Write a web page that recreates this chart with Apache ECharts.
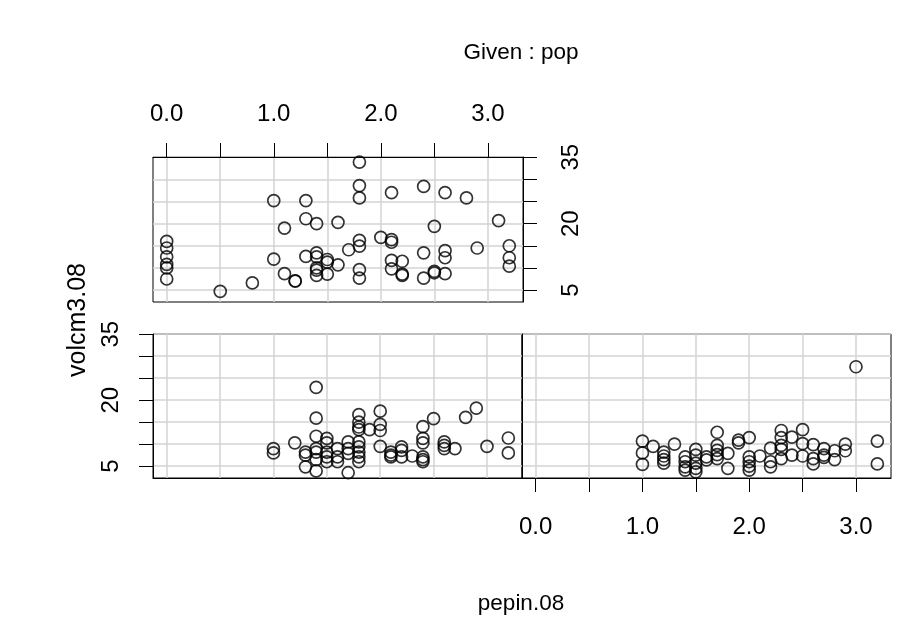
<!DOCTYPE html>
<html>
<head>
<meta charset="utf-8">
<script src="https://cdn.jsdelivr.net/npm/echarts@6/dist/echarts.min.js"></script>
<style>
html,body{margin:0;padding:0;background:#fff;}
#chart{width:898px;height:644px;}
</style>
</head>
<body>
<div id="chart"></div>
<script>
// ---- data (pepin.08 vs volcm3.08, given pop) ----
const topX = [0,0,0,0,0,0, 0.5, 0.8, 1.0,1.0, 1.1,1.1, 1.2,1.2, 1.3,1.3,1.3, 1.4,1.4,1.4,1.4,1.4,1.4, 1.5,1.5,1.5, 1.6,1.6, 1.7,
  1.8,1.8,1.8,1.8,1.8,1.8,1.8, 2.0, 2.1,2.1,2.1,2.1,2.1, 2.2,2.2,2.2, 2.4,2.4,2.4, 2.5,2.5,2.5, 2.6,2.6,2.6,2.6, 2.8, 2.9, 3.1, 3.2,3.2,3.2];
const topY = [16.0,14.5,12.5,10.8,10.0,7.5, 4.7, 6.6, 25.2,12.0, 19.0,8.7, 7.1,7.0, 25.2,21.1,12.6, 20.0,13.4,12.5,10.0,9.5,8.3, 11.9,11.3,8.6, 20.3,10.7, 14.1,
  33.9,28.6,25.8,16.2,14.9,9.6,7.7, 16.9, 16.4,15.8,27.0,11.7,9.8, 11.5,8.6,8.3, 28.4,13.4,7.7, 19.4,9.2,8.9, 27.0,13.9,12.3,8.7, 25.8, 14.5, 20.7, 15.0,12.3,10.4];

const leftX = [1.0,1.0, 1.2, 1.3,1.3,1.3, 1.4,1.4,1.4,1.4,1.4,1.4,1.4, 1.5,1.5,1.5,1.5,1.5, 1.6,1.6,1.6, 1.7,1.7,1.7,1.7,
  1.8,1.8,1.8,1.8,1.8,1.8,1.8,1.8,1.8, 1.9, 2.0,2.0,2.0,2.0, 2.1,2.1,2.1, 2.2,2.2,2.2, 2.3, 2.4,2.4,2.4,2.4,2.4,2.4,
  2.5, 2.6,2.6,2.6, 2.7, 2.8, 2.9, 3.0, 3.2,3.2];
const leftY = [9.0,8.0, 10.3, 8.2,7.5,4.85, 22.9,15.9,11.8,9.0,8.2,6.5,3.9, 11.3,10.3,8.2,7.1,6.0, 9.0,7.1,6.0, 10.5,9.0,7.9,3.5,
  16.7,15.0,13.9,13.3,10.5,9.4,8.2,7.1,6.0, 13.3, 17.5,14.5,13.1,9.5, 8.2,7.5,7.1, 9.4,8.6,7.1, 7.3, 14.0,11.3,10.3,7.1,6.5,6.0,
  15.8, 10.5,9.7,9.0, 9.0, 16.1, 18.2, 9.5, 11.4,8.0];

const rightX = [1.0,1.0,1.0, 1.1, 1.2,1.2,1.2,1.2, 1.3, 1.4,1.4,1.4,1.4, 1.5,1.5,1.5,1.5,1.5, 1.6,1.6, 1.7,1.7,1.7,1.7,1.7,
  1.8,1.8, 1.9,1.9, 2.0,2.0,2.0,2.0,2.0, 2.1, 2.2,2.2,2.2, 2.3,2.3,2.3,2.3,2.3, 2.4,2.4, 2.5,2.5,2.5, 2.6,2.6,2.6,
  2.7,2.7,2.7, 2.8,2.8, 2.9,2.9, 3.0, 3.2,3.2];
const rightY = [10.7,8.0,5.4, 9.5, 8.2,7.3,6.5,5.7, 10.0, 7.1,6.0,4.85,4.1, 8.8,7.5,5.7,4.5,3.7, 7.1,6.4, 12.7,9.7,8.6,7.6,6.7,
  7.9,4.5, 10.9,10.3, 11.5,7.1,6.0,5.0,4.1, 7.3, 9.1,6.0,4.85, 13.1,11.5,9.7,8.8,6.7, 11.6,7.5, 13.3,10.1,7.3, 9.9,6.7,5.5,
  9.0,7.5,7.0, 8.5,6.5, 10.0,8.5, 27.6, 10.7,5.5];

const xTicks = [0, 0.5, 1, 1.5, 2, 2.5, 3];
const xTickLabels = [0, 1, 2, 3];
const yTicks = [5, 10, 15, 20, 25, 30, 35];
const yTickLabels = [5, 20, 35];
const titleText = 'Given : pop';
const xName = 'pepin.08';
const yName = 'volcm3.08';

// ---- chart ----
const FONT = '"Liberation Sans", Arial, Helvetica, sans-serif';
const TICK_FS = 24, LAB_FS = 22.5, YLAB_FS = 25;
const xMin = -0.128, xMax = 3.328, yMin = 2.3, yMax = 35.05;

function zip(a, b) { return a.map((v, i) => [v, b[i]]); }

const split = { show: true, lineStyle: { color: '#d3d3d3', width: 1.5 } };
const line = { show: true, onZero: false, lineStyle: { color: '#000', width: 1 } };

function xAx(gi, pos, labelled, margin) {
  return {
    type: 'value', gridIndex: gi, position: pos, min: xMin, max: xMax,
    axisLine: line,
    axisTick: { show: labelled, customValues: xTicks, length: 14, lineStyle: { color: '#000', width: 1 } },
    axisLabel: { show: labelled, customValues: xTickLabels, formatter: v => Number(v).toFixed(1),
      fontSize: TICK_FS, fontFamily: FONT, color: '#000', margin: margin },
    splitLine: split
  };
}
function yAx(gi, pos, labelled, margin) {
  return {
    type: 'value', gridIndex: gi, position: pos, min: yMin, max: yMax,
    axisLine: line,
    axisTick: { show: labelled, customValues: yTicks, length: 14, lineStyle: { color: '#000', width: 1 } },
    axisLabel: { show: labelled, customValues: yTickLabels, rotate: 90,
      fontSize: TICK_FS, fontFamily: FONT, color: '#000', margin: margin },
    splitLine: split
  };
}
function sc(gi, data) {
  return {
    type: 'scatter', xAxisIndex: gi, yAxisIndex: gi, data: data,
    symbol: 'circle', symbolSize: 12, silent: true,
    itemStyle: { color: 'rgba(0,0,0,0)', borderColor: '#000', borderWidth: 1.7 },
    emphasis: { disabled: true }
  };
}

const chart = echarts.init(document.getElementById('chart'), null, { renderer: 'canvas' });
chart.setOption({
  animation: false,
  backgroundColor: '#fff',
  grid: [
    { left: 153, top: 157, width: 370, height: 145, show: true, borderColor: '#000', borderWidth: 1, backgroundColor: 'transparent' },
    { left: 153, top: 334, width: 369, height: 144, show: true, borderColor: '#000', borderWidth: 1, backgroundColor: 'transparent' },
    { left: 522, top: 334, width: 369, height: 144, show: true, borderColor: '#000', borderWidth: 1, backgroundColor: 'transparent' }
  ],
  xAxis: [ xAx(0, 'top', true, 31), xAx(1, 'bottom', false, 30), xAx(2, 'bottom', true, 37) ],
  yAxis: [ yAx(0, 'right', true, 36), yAx(1, 'left', true, 30), yAx(2, 'left', false, 30) ],
  series: [ sc(0, zip(topX, topY)), sc(1, zip(leftX, leftY)), sc(2, zip(rightX, rightY)) ],
  graphic: [
    { type: 'text', x: 521, y: 53, silent: true,
      style: { text: titleText, fontSize: LAB_FS, fontFamily: FONT, fill: '#000', align: 'center', verticalAlign: 'middle' } },
    { type: 'text', x: 521, y: 604, silent: true,
      style: { text: xName, fontSize: LAB_FS, fontFamily: FONT, fill: '#000', align: 'center', verticalAlign: 'middle' } },
    { type: 'text', x: 78, y: 320, rotation: Math.PI / 2, silent: true,
      style: { text: yName, fontSize: YLAB_FS, fontFamily: FONT, fill: '#000', align: 'center', verticalAlign: 'middle' } }
  ]
});
</script>
</body>
</html>
